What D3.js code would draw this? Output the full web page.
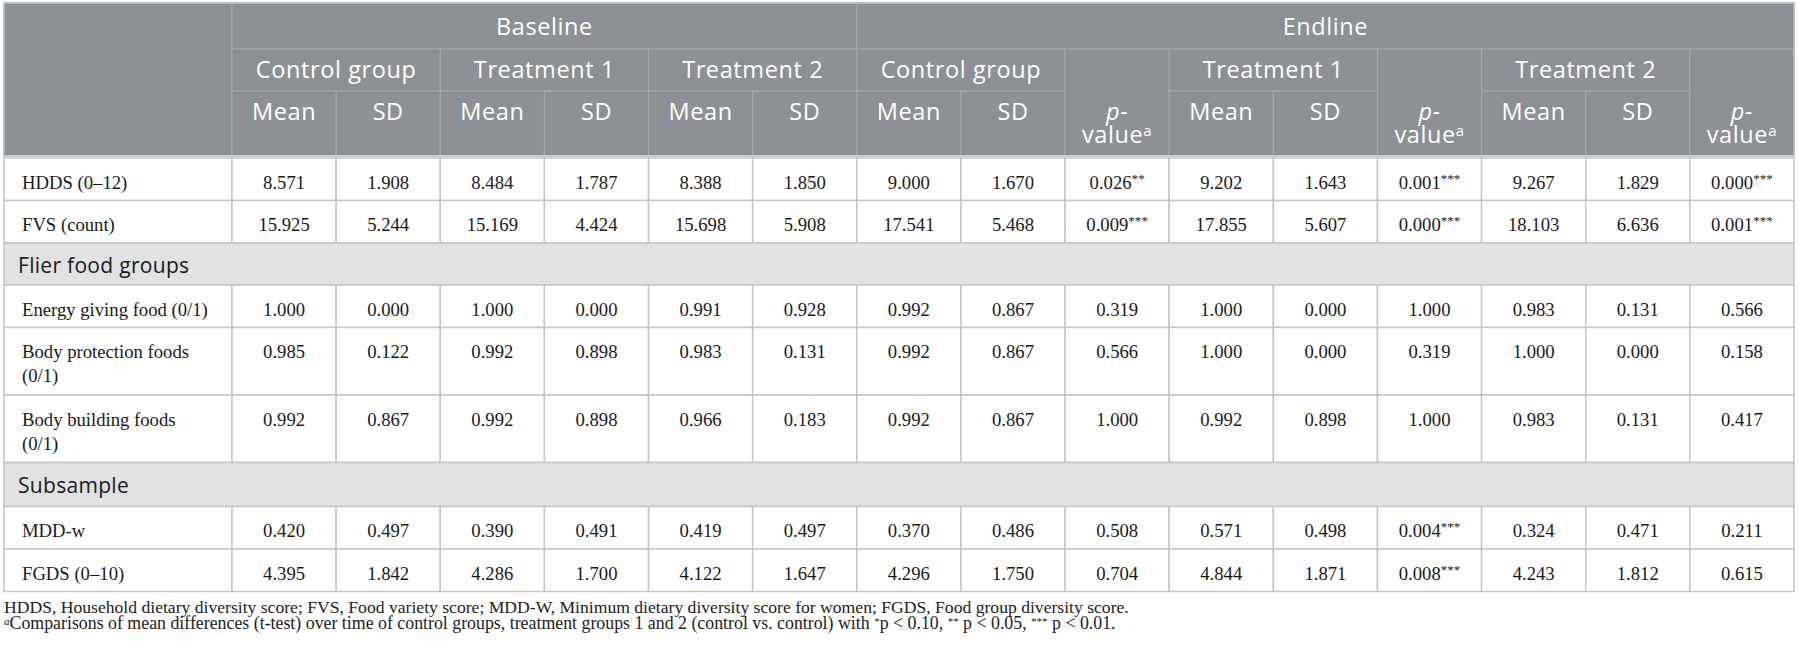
<!DOCTYPE html>
<html>
<head>
<meta charset="utf-8">
<script src="https://cdn.jsdelivr.net/npm/d3@7"></script>
<style>
  body { margin: 0; background: #fff; }
  svg { display: block; }
  .hdr { fill: #fff; font-family: "Open Sans", sans-serif; font-size: 23.5px; letter-spacing: 0.6px; }
  .cell { fill: #1a1a1a; font-family: "Liberation Serif", "Times New Roman", serif; font-size: 18.5px; }
  .sect { fill: #1a1a1a; font-family: "Open Sans", sans-serif; font-size: 21px; letter-spacing: 0.3px; }
  .note { fill: #222; font-family: "Liberation Serif", "Times New Roman", serif; font-size: 17.5px; }
</style>
</head>
<body>
<div id="table"></div>
<script>
// Table content
var periods = ["Baseline", "Endline"];
var groups = ["Control group", "Treatment 1", "Treatment 2"];
var stats = ["Mean", "SD"];

var sections = ["Flier food groups", "Subsample"];

var rowLabels = [
  ["HDDS (0–12)"],
  ["FVS (count)"],
  ["Energy giving food (0/1)"],
  ["Body protection foods", "(0/1)"],
  ["Body building foods", "(0/1)"],
  ["MDD-w"],
  ["FGDS (0–10)"]
];

// which section each row sits under (-1 = none)
var rowSection = [-1, -1, 0, 0, 0, 1, 1];

// baseline: mean, sd x3 ; endline: mean, sd, p x3
var hdds   = ["8.571", "1.908", "8.484", "1.787", "8.388", "1.850", "9.000", "1.670", "0.026**", "9.202", "1.643", "0.001***", "9.267", "1.829", "0.000***"];
var fvs    = ["15.925", "5.244", "15.169", "4.424", "15.698", "5.908", "17.541", "5.468", "0.009***", "17.855", "5.607", "0.000***", "18.103", "6.636", "0.001***"];
var energy = ["1.000", "0.000", "1.000", "0.000", "0.991", "0.928", "0.992", "0.867", "0.319", "1.000", "0.000", "1.000", "0.983", "0.131", "0.566"];
var protect = ["0.985", "0.122", "0.992", "0.898", "0.983", "0.131", "0.992", "0.867", "0.566", "1.000", "0.000", "0.319", "1.000", "0.000", "0.158"];
var build  = ["0.992", "0.867", "0.992", "0.898", "0.966", "0.183", "0.992", "0.867", "1.000", "0.992", "0.898", "1.000", "0.983", "0.131", "0.417"];
var mddw   = ["0.420", "0.497", "0.390", "0.491", "0.419", "0.497", "0.370", "0.486", "0.508", "0.571", "0.498", "0.004***", "0.324", "0.471", "0.211"];
var fgds   = ["4.395", "1.842", "4.286", "1.700", "4.122", "1.647", "4.296", "1.750", "0.704", "4.844", "1.871", "0.008***", "4.243", "1.812", "0.615"];
var rowValues = [hdds, fvs, energy, protect, build, mddw, fgds];

var footnote1 = "HDDS, Household dietary diversity score; FVS, Food variety score; MDD-W, Minimum dietary diversity score for women; FGDS, Food group diversity score.";
var footnote2 = [
  ["a", "supi"],
  ["Comparisons of mean differences (t-test) over time of control groups, treatment groups 1 and 2 (control vs. control) with ", ""],
  ["*", "sup"], ["p < 0.10, ", ""],
  ["**", "sup"], [" p < 0.05, ", ""],
  ["***", "sup"], [" p < 0.01.", ""]
];

// Layout
var svgWidth = 1798;
var svgHeight = 646;
var left = 4, labelRight = 232, right = 1794;
var headTop = 3, head1 = 49, head2 = 91, headBottom = 156;

var headFill = "#8d9195";
var headLine = "#a6a9ac";
var gridLine = "#c4c5c6";
var sectFill = "#e1e2e3";

var svg = d3.select("#table")
  .append("svg")
  .attr("width", svgWidth)
  .attr("height", svgHeight);

// column scale: 15 data columns
var colX = d3.scaleLinear().domain([0, 15]).range([labelRight, right]);

// body rows: sections interleaved
var bodyRows = [];
rowLabels.forEach(function (lab, i) {
  if (rowSection[i] >= 0 && (i === 0 || rowSection[i - 1] !== rowSection[i])) {
    bodyRows.push({ type: "section", label: sections[rowSection[i]] });
  }
  bodyRows.push({ type: "data", label: lab, values: rowValues[i] });
});

// row heights derive from the number of text lines
var rowTops = [158];
bodyRows.forEach(function (r, i) {
  var h;
  if (r.type === "section") h = i === 2 ? 42 : 44;
  else h = r.label.length > 1 ? 67.5 : 42.5;
  rowTops.push(rowTops[i] + h);
});

// shrink/stretch a text's font so it spans the width it has in the original
function fitWidth(sel, base, target, lo, hi) {
  var w = sel.node().getComputedTextLength();
  if (!(w > 0)) return base;
  return Math.max(lo, Math.min(hi, base * target / w));
}

// ---------- header ----------
var headCells = [];
headCells.push({ x0: left, x1: labelRight, y0: headTop, y1: headBottom, text: [] });
headCells.push({ x0: colX(0), x1: colX(6), y0: headTop, y1: head1, text: [periods[0]], ty: 27 });
headCells.push({ x0: colX(6), x1: colX(15), y0: headTop, y1: head1, text: [periods[1]], ty: 27 });

groups.forEach(function (g, i) {
  headCells.push({ x0: colX(2 * i), x1: colX(2 * i + 2), y0: head1, y1: head2, text: [g], ty: 70 });
  stats.forEach(function (s, j) {
    headCells.push({ x0: colX(2 * i + j), x1: colX(2 * i + j + 1), y0: head2, y1: headBottom, text: [s], ty: 112 });
  });
  var c = 6 + 3 * i;
  headCells.push({ x0: colX(c), x1: colX(c + 2), y0: head1, y1: head2, text: [g], ty: 70 });
  stats.forEach(function (s, j) {
    headCells.push({ x0: colX(c + j), x1: colX(c + j + 1), y0: head2, y1: headBottom, text: [s], ty: 112 });
  });
  headCells.push({ x0: colX(c + 2), x1: colX(c + 3), y0: head1, y1: headBottom, pval: true });
});

var headGroup = svg.append("g");

headGroup.selectAll("rect")
  .data(headCells)
  .enter()
  .append("rect")
  .attr("x", d => d.x0)
  .attr("y", d => d.y0)
  .attr("width", d => d.x1 - d.x0)
  .attr("height", d => d.y1 - d.y0)
  .attr("fill", headFill)
  .attr("stroke", headLine)
  .attr("stroke-width", 1);

headGroup.selectAll("text.h")
  .data(headCells.filter(d => d.text && d.text.length))
  .enter()
  .append("text")
  .attr("class", "hdr")
  .attr("x", d => (d.x0 + d.x1) / 2)
  .attr("y", d => d.ty)
  .attr("dy", "0.35em")
  .attr("text-anchor", "middle")
  .text(d => d.text[0]);

// "p-value" wraps onto two lines inside one text element
var pv = headGroup.selectAll("text.p")
  .data(headCells.filter(d => d.pval))
  .enter()
  .append("text")
  .attr("class", "hdr")
  .attr("x", d => (d.x0 + d.x1) / 2)
  .attr("y", 112)
  .attr("dy", "0.35em")
  .attr("text-anchor", "middle");
pv.append("tspan").attr("font-style", "italic").text("p-");
pv.append("tspan").attr("x", d => (d.x0 + d.x1) / 2).attr("dy", 23).text("value");
pv.append("tspan").attr("font-size", "15px").attr("dy", -7).text("a");

// outer light frame of the header and double rule beneath
svg.append("rect")
  .attr("x", left).attr("y", headTop)
  .attr("width", right - left).attr("height", headBottom - headTop)
  .attr("fill", "none").attr("stroke", "#b9bcbf").attr("stroke-width", 1.5);

svg.append("line")
  .attr("x1", left).attr("x2", right)
  .attr("y1", headBottom).attr("y2", headBottom)
  .attr("stroke", "#c9cbcd").attr("stroke-width", 2);

// ---------- body ----------
var body = svg.append("g");

// body font size: the label "Energy giving food (0/1)" is about 186px wide in the original
var probe = body.append("text").attr("class", "cell").text(rowLabels[2][0]);
var cellSize = fitWidth(probe, 18.5, 186, 16, 24);
probe.remove();
var starSize = cellSize * 0.7;

bodyRows.forEach(function (r, i) {
  var y0 = rowTops[i], y1 = rowTops[i + 1];
  var g = body.append("g");
  if (r.type === "section") {
    g.append("rect")
      .attr("x", left).attr("y", y0)
      .attr("width", right - left).attr("height", y1 - y0)
      .attr("fill", sectFill).attr("stroke", gridLine).attr("stroke-width", 1.5);
    g.append("text")
      .attr("class", "sect")
      .attr("x", 18)
      .attr("y", y0 + 23)
      .attr("dy", "0.35em")
      .text(r.label);
    return;
  }

  var cells = [{ x0: left, x1: labelRight }].concat(d3.range(15).map(c => ({ x0: colX(c), x1: colX(c + 1) })));
  g.selectAll("rect")
    .data(cells)
    .enter()
    .append("rect")
    .attr("x", d => d.x0)
    .attr("y", y0)
    .attr("width", d => d.x1 - d.x0)
    .attr("height", y1 - y0)
    .attr("fill", "#fff")
    .attr("stroke", gridLine)
    .attr("stroke-width", 1.5);

  g.selectAll("text.lab")
    .data(r.label)
    .enter()
    .append("text")
    .attr("class", "cell")
    .style("font-size", cellSize + "px")
    .attr("x", 22)
    .attr("y", (d, k) => y0 + 24 + k * 24)
    .attr("dy", "0.35em")
    .text(d => d);

  var vals = g.selectAll("text.val")
    .data(r.values)
    .enter()
    .append("text")
    .attr("class", "cell")
    .style("font-size", cellSize + "px")
    .attr("x", (d, c) => (colX(c) + colX(c + 1)) / 2)
    .attr("y", y0 + 24)
    .attr("dy", "0.35em")
    .attr("text-anchor", "middle");

  vals.each(function (d) {
    var m = d.match(/^([\d.]+)(\**)$/);
    var t = d3.select(this);
    t.append("tspan").text(m[1]);
    if (m[2]) t.append("tspan").style("font-size", starSize + "px").attr("dy", -6).text(m[2]);
  });
});

// ---------- footnotes ----------
var tableBottom = rowTops[rowTops.length - 1];

var fn1 = svg.append("text")
  .attr("class", "note")
  .attr("x", 4)
  .attr("y", tableBottom + 15)
  .attr("dy", "0.35em")
  .text(footnote1);

var fn2 = svg.append("text")
  .attr("class", "note")
  .attr("x", 4)
  .attr("y", tableBottom + 37)
  .attr("dy", "0.35em");

var raised = false;
footnote2.forEach(function (part) {
  var ts = fn2.append("tspan").text(part[0]);
  if (part[1]) {
    ts.attr("font-size", "11px").attr("dy", raised ? 0 : -4);
    if (part[1] === "supi") ts.attr("font-style", "italic");
    raised = true;
  } else {
    ts.attr("dy", raised ? 4 : 0);
    raised = false;
  }
});

fn1.style("font-size", fitWidth(fn1, 17.5, 1125, 15, 20) + "px");
fn2.style("font-size", fitWidth(fn2, 17.5, 1113, 15, 20) + "px");
</script>
</body>
</html>
